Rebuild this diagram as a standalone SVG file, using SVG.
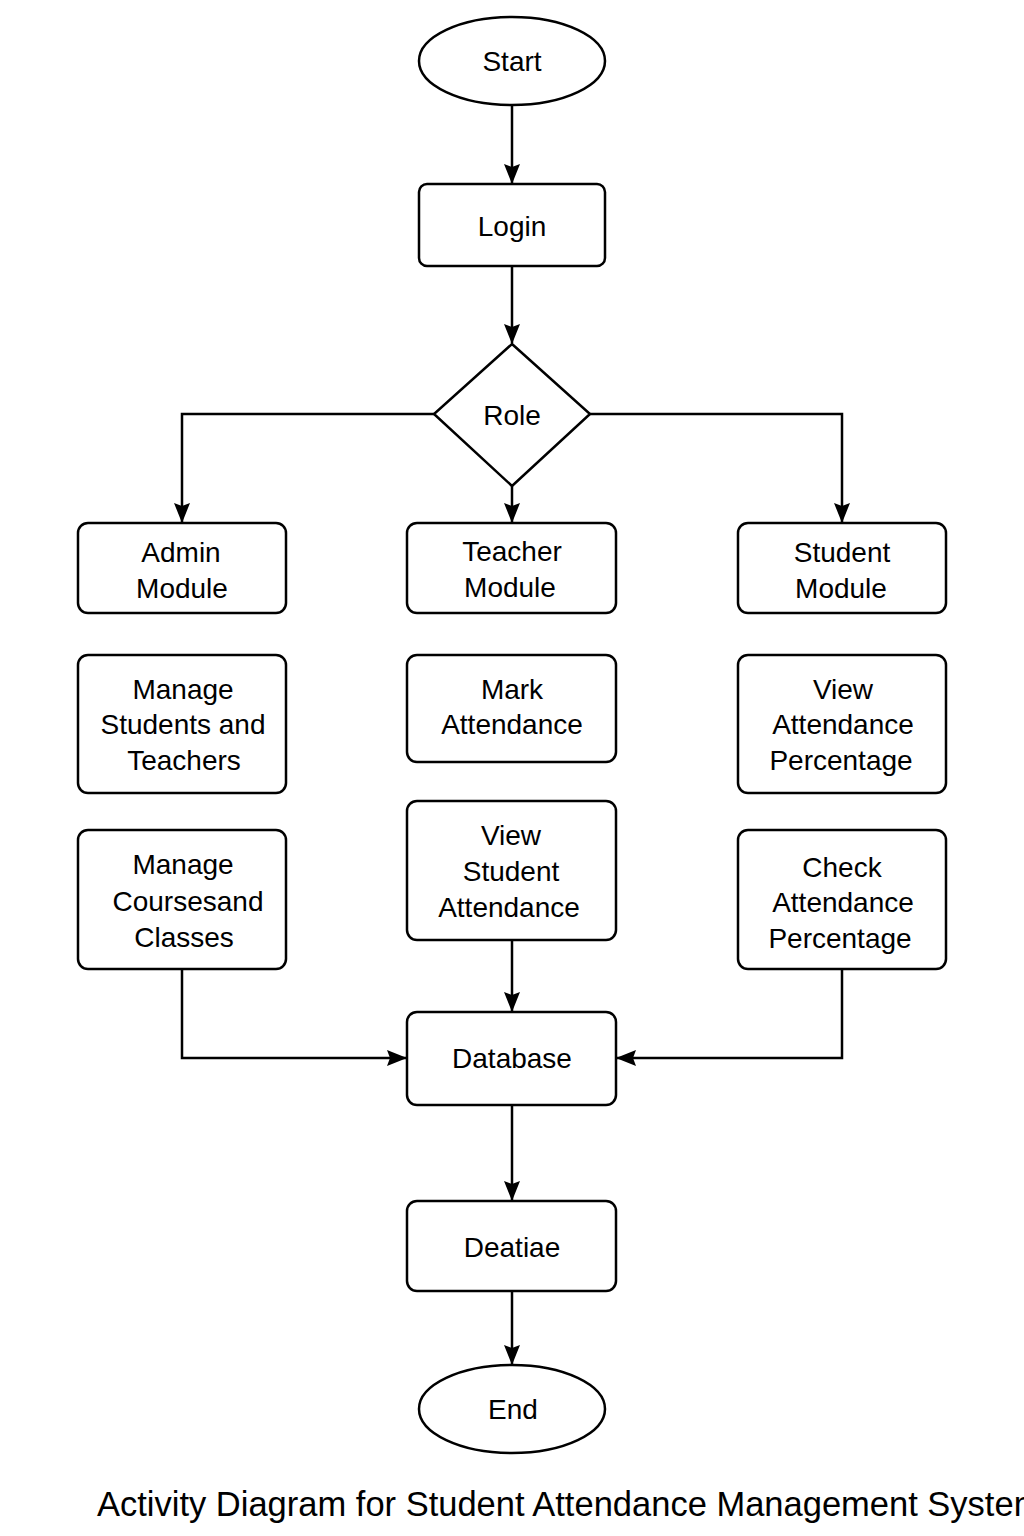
<svg xmlns="http://www.w3.org/2000/svg" width="1024" height="1536" viewBox="0 0 1024 1536">
<style>
.n{fill:#fff;stroke:#000;stroke-width:2.5}
.c{fill:none;stroke:#000;stroke-width:2.5}
text{font-family:"Liberation Sans",Arial,sans-serif;font-size:28px;fill:#000;text-anchor:middle}
.t{font-size:34.5px;text-anchor:start}
</style>
<defs>
<marker id="a" viewBox="0 0 20 16" refX="19" refY="8" markerWidth="20" markerHeight="16" markerUnits="userSpaceOnUse" orient="auto">
<path d="M0,0 L20,8 L0,16 L3,8 Z" fill="#000"/>
</marker>
</defs>
<rect width="1024" height="1536" fill="#fff"/>
<g id="connectors">
<path class="c" d="M512,105 V183" marker-end="url(#a)"/>
<path class="c" d="M512,266 V343" marker-end="url(#a)"/>
<path class="c" d="M434,414 H182 V522" marker-end="url(#a)"/>
<path class="c" d="M590,414 H842 V522" marker-end="url(#a)"/>
<path class="c" d="M512,486 V522" marker-end="url(#a)"/>
<path class="c" d="M512,940 V1011" marker-end="url(#a)"/>
<path class="c" d="M182,969 V1058 H406" marker-end="url(#a)"/>
<path class="c" d="M842,969 V1058 H617" marker-end="url(#a)"/>
<path class="c" d="M512,1105 V1200" marker-end="url(#a)"/>
<path class="c" d="M512,1291 V1364" marker-end="url(#a)"/>
</g>
<g id="start"><ellipse class="n" cx="512" cy="61" rx="93" ry="44"/><text x="512" y="71">Start</text></g>
<g id="login"><rect class="n" x="419" y="184" width="186" height="82" rx="8"/><text x="512" y="236">Login</text></g>
<g id="role"><path class="n" d="M512,344 L590,414 L512,486 L434,414 Z"/><text x="512" y="425">Role</text></g>
<g id="admin"><rect class="n" x="78" y="523" width="208" height="90" rx="10"/><text x="181" y="562">Admin</text><text x="182" y="598">Module</text></g>
<g id="teacher"><rect class="n" x="407" y="523" width="209" height="90" rx="10"/><text x="512" y="561">Teacher</text><text x="510" y="597">Module</text></g>
<g id="student"><rect class="n" x="738" y="523" width="208" height="90" rx="10"/><text x="842" y="562">Student</text><text x="841" y="598">Module</text></g>
<g id="manage-st"><rect class="n" x="78" y="655" width="208" height="138" rx="10"/><text x="183" y="699">Manage</text><text x="183" y="734">Students and</text><text x="184" y="770">Teachers</text></g>
<g id="mark"><rect class="n" x="407" y="655" width="209" height="107" rx="10"/><text x="512" y="699">Mark</text><text x="512" y="734">Attendance</text></g>
<g id="view-pct"><rect class="n" x="738" y="655" width="208" height="138" rx="10"/><text x="843" y="699">View</text><text x="843" y="734">Attendance</text><text x="841" y="770">Percentage</text></g>
<g id="manage-cc"><rect class="n" x="78" y="830" width="208" height="139" rx="10"/><text x="183" y="874">Manage</text><text x="188" y="911">Coursesand</text><text x="184" y="947">Classes</text></g>
<g id="view-sa"><rect class="n" x="407" y="801" width="209" height="139" rx="10"/><text x="511" y="845">View</text><text x="511" y="881">Student</text><text x="509" y="917">Attendance</text></g>
<g id="check"><rect class="n" x="738" y="830" width="208" height="139" rx="10"/><text x="842" y="877">Check</text><text x="843" y="912">Attendance</text><text x="840" y="948">Percentage</text></g>
<g id="database"><rect class="n" x="407" y="1012" width="209" height="93" rx="10"/><text x="512" y="1068">Database</text></g>
<g id="deatiae"><rect class="n" x="407" y="1201" width="209" height="90" rx="10"/><text x="512" y="1257">Deatiae</text></g>
<g id="end"><ellipse class="n" cx="512" cy="1409" rx="93" ry="44"/><text x="513" y="1419">End</text></g>
<text class="t" x="97" y="1516">Activity Diagram for Student Attendance Management System</text>
</svg>
